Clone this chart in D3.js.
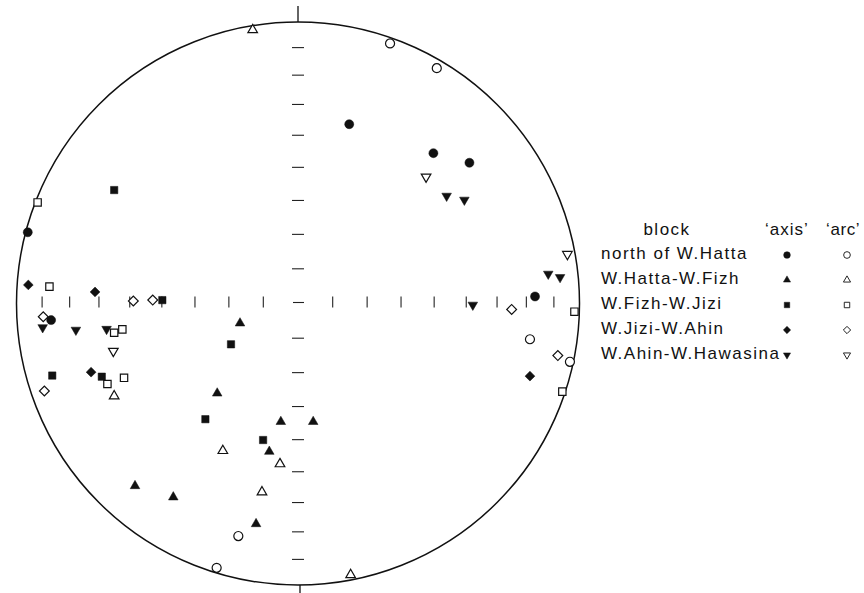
<!DOCTYPE html>
<html>
<head>
<meta charset="utf-8">
<script src="https://cdn.jsdelivr.net/npm/d3@7"></script>
<style>
  body { margin: 0; background: #fff; }
  text { font-family: "Liberation Sans", Arial, sans-serif; fill: #111; }
</style>
</head>
<body>
<svg id="chart" width="864" height="593"></svg>
<script>
// equal-area stereonet; points given as [east, north] in units of the primitive circle
var blocks = ['north of W.Hatta', 'W.Hatta-W.Fizh', 'W.Fizh-W.Jizi', 'W.Jizi-W.Ahin', 'W.Ahin-W.Hawasina'];
var columns = ['\u2018axis\u2019', '\u2018arc\u2019'];
var tickPlunges = [10, 20, 30, 40, 50, 60, 70, 80];

var hattaAxis = [[0.182, 0.637], [0.481, 0.534], [0.609, 0.500], [0.842, 0.025], [-0.960, 0.253], [-0.877, -0.059]];
var hattaArc = [[0.327, 0.924], [0.493, 0.836], [0.824, -0.127], [0.966, -0.207], [-0.212, -0.826], [-0.289, -0.939]];

var fizhAxis = [[-0.206, -0.070], [-0.287, -0.319], [-0.061, -0.420], [0.054, -0.420], [-0.102, -0.526],
                [-0.579, -0.648], [-0.443, -0.688], [-0.149, -0.783]];
var fizhArc = [[-0.161, 0.972], [-0.653, -0.329], [-0.267, -0.523], [-0.064, -0.570], [-0.128, -0.670], [0.187, -0.964]];

var jiziAxis = [[-0.653, 0.403], [-0.482, 0.012], [-0.238, -0.145], [-0.873, -0.256], [-0.697, -0.260],
                [-0.329, -0.411], [-0.124, -0.485]];
var jiziArc = [[-0.925, 0.359], [-0.883, 0.060], [-0.653, -0.104], [-0.624, -0.092], [-0.677, -0.286],
               [-0.618, -0.264], [0.982, -0.029], [0.939, -0.313]];

var ahinAxis = [[-0.958, 0.066], [-0.721, 0.041], [-0.735, -0.244], [0.824, -0.258]];
var ahinArc = [[-0.585, 0.009], [-0.516, 0.012], [-0.905, -0.047], [-0.901, -0.311], [0.759, -0.021], [0.923, -0.185]];

var hawasinaAxis = [[0.528, 0.382], [0.591, 0.368], [0.889, 0.105], [0.931, 0.093], [0.621, -0.005],
                    [-0.907, -0.085], [-0.789, -0.094], [-0.680, -0.091]];
var hawasinaArc = [[0.455, 0.450], [0.957, 0.175], [-0.656, -0.169]];

var axisSets = [hattaAxis, fizhAxis, jiziAxis, ahinAxis, hawasinaAxis];
var arcSets = [hattaArc, fizhArc, jiziArc, ahinArc, hawasinaArc];

var cx = 298, cy = 303.5, R = 281.5;
var svg = d3.select('#chart');

var x = d3.scaleLinear().domain([-1, 1]).range([cx - R, cx + R]);
var y = d3.scaleLinear().domain([-1, 1]).range([cy + R, cy - R]);

// equal-area radius for a line of given plunge
function eqArea(p) { return Math.SQRT2 * Math.sin((90 - p) / 2 * Math.PI / 180); }

svg.append('circle')
  .attr('cx', x(0)).attr('cy', y(0)).attr('r', x(1) - x(0))
  .attr('fill', 'none').attr('stroke', '#111').attr('stroke-width', 1.5);

// N and S marks outside the circle
svg.append('line').attr('x1', x(0)).attr('x2', x(0)).attr('y1', y(1)).attr('y2', y(1) - 16)
  .attr('stroke', '#111').attr('stroke-width', 1.3);
svg.append('line').attr('x1', x(0) + 2).attr('x2', x(0) + 2).attr('y1', y(-1)).attr('y2', y(-1) + 9)
  .attr('stroke', '#111').attr('stroke-width', 1.3);

var ticks = svg.append('g').attr('stroke', '#222').attr('stroke-width', 1.1);
tickPlunges.forEach(function(p) {
  var r = eqArea(p);
  [-1, 1].forEach(function(s) {
    ticks.append('line')
      .attr('x1', x(s * r)).attr('x2', x(s * r))
      .attr('y1', y(0) - 7).attr('y2', y(0) + 4);
    ticks.append('line')
      .attr('x1', x(0) - 6).attr('x2', x(0) + 6)
      .attr('y1', y(s * r)).attr('y2', y(s * r));
  });
});
ticks.append('line').attr('x1', x(0) - 5).attr('x2', x(0) + 6).attr('y1', y(0) - 1).attr('y2', y(0) - 1);

var shapes = [
  { type: d3.symbolCircle, size: 64, rot: 0 },
  { type: d3.symbolTriangle, size: 40, rot: 0 },
  { type: d3.symbolSquare, size: 54, rot: 0 },
  { type: d3.symbolSquare, size: 48, rot: 45 },
  { type: d3.symbolTriangle, size: 40, rot: 180 }
];

function drawMarks(sets, filled) {
  sets.forEach(function(pts, i) {
    var sh = shapes[i];
    svg.append('g').selectAll('path')
      .data(pts)
      .enter().append('path')
      .attr('d', d3.symbol().type(sh.type).size(sh.size))
      .attr('transform', function(d) {
        return 'translate(' + x(d[0]) + ',' + y(d[1]) + ') rotate(' + sh.rot + ')';
      })
      .attr('fill', filled ? '#111' : '#fff')
      .attr('stroke', '#111')
      .attr('stroke-width', filled ? 0.5 : 1.2);
  });
}
drawMarks(arcSets, false);
drawMarks(axisSets, true);

// legend
var lg = svg.append('g').attr('font-size', 17).style('letter-spacing', '1.5px');
lg.append('text').attr('x', 667).attr('y', 235).attr('text-anchor', 'middle').text('block');
lg.append('text').attr('x', 765).attr('y', 235).style('letter-spacing', '1px').text(columns[0]);
lg.append('text').attr('x', 826).attr('y', 235).style('letter-spacing', '0.6px').text(columns[1]);

blocks.forEach(function(b, i) {
  var ty = 259 + i * 25;
  lg.append('text').attr('x', 601).attr('y', ty).text(b);
  [0, 1].forEach(function(c) {
    var sh = shapes[i];
    svg.append('path')
      .attr('d', d3.symbol().type(sh.type).size(sh.size * 0.55))
      .attr('transform', 'translate(' + (c ? 847 : 787) + ',' + (ty - 4) + ') rotate(' + sh.rot + ')')
      .attr('fill', c ? '#fff' : '#111')
      .attr('stroke', '#111')
      .attr('stroke-width', c ? 0.9 : 0.5);
  });
});
</script>
</body>
</html>
